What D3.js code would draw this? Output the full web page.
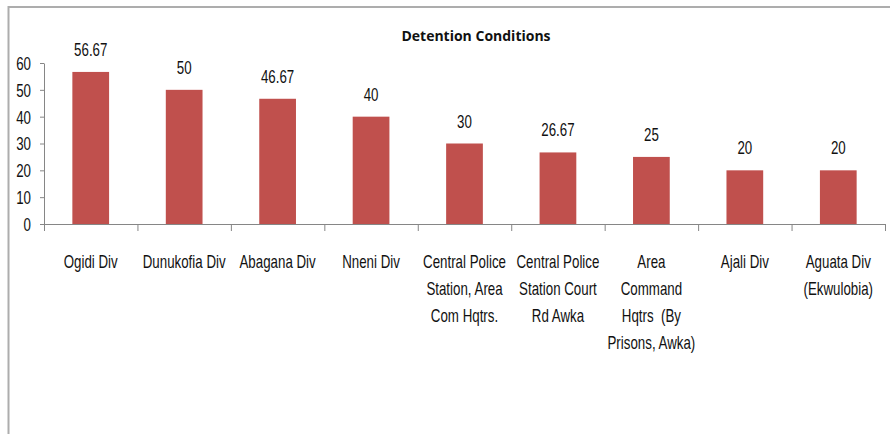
<!DOCTYPE html>
<html>
<head>
<meta charset="utf-8">
<script src="https://cdn.jsdelivr.net/npm/d3@7"></script>
<style>
  html, body { margin: 0; padding: 0; background: #fff; }
  svg { display: block; }
  .narrow { font-family: 'Liberation Sans', Arial, sans-serif; font-size: 18px; fill: #111; }
</style>
</head>
<body>
<div id="chart"></div>
<script>
// categories (lines of each x label) and values
const categories = [
  ['Ogidi Div'],
  ['Dunukofia Div'],
  ['Abagana Div'],
  ['Nneni Div'],
  ['Central Police', 'Station, Area', 'Com Hqtrs.'],
  ['Central Police', 'Station Court', 'Rd Awka'],
  ['Area', 'Command', 'Hqtrs  (By', 'Prisons, Awka)'],
  ['Ajali Div'],
  ['Aguata Div', '(Ekwulobia)']
]
const values = [56.67, 50, 46.67, 40, 30, 26.67, 25, 20, 20]
const yTicks = [0, 10, 20, 30, 40, 50, 60]
const title = 'Detention Conditions'

const W = 890
const H = 434
const plot = { left: 44, right: 885, top: 63, bottom: 224 }
const squeeze = 0.74 // condensed look of the original font

const svg = d3.select('#chart')
  .append('svg')
  .attr('width', W)
  .attr('height', H)

// chart frame (cut off on the right and bottom)
svg.append('rect')
  .attr('x', 8.5)
  .attr('y', 7)
  .attr('width', 1000)
  .attr('height', 1000)
  .attr('fill', 'none')
  .attr('stroke', '#adadad')
  .attr('stroke-width', 2)

// scales
const keys = categories.map((c, i) => i)
const x = d3.scaleBand()
  .domain(keys)
  .range([plot.left, plot.right])

const xLin = d3.scaleLinear()
  .domain([0, categories.length])
  .range([plot.left, plot.right])

const y = d3.scaleLinear()
  .domain([0, 60])
  .range([plot.bottom, plot.top])

// title
svg.append('text')
  .attr('x', 476)
  .attr('y', 41)
  .attr('text-anchor', 'middle')
  .style('font-family', "'Open Sans', sans-serif")
  .style('font-size', '14px')
  .style('font-weight', 'bold')
  .attr('fill', '#111')
  .text(title)

// y axis
const yAxis = svg.append('g')
  .attr('transform', `translate(${plot.left},0)`)
  .call(d3.axisLeft(y).tickValues(yTicks).tickSize(4).tickSizeOuter(0).tickPadding(9))

yAxis.select('.domain').attr('stroke', '#868686')
yAxis.selectAll('.tick line').attr('stroke', '#868686')
yAxis.selectAll('text')
  .attr('class', 'narrow')
  .attr('fill', null)
  .attr('x', 0)
  .attr('dy', '0.36em')
  .attr('transform', `translate(-13,0) scale(${squeeze},1)`)

// x axis with ticks at category boundaries
const xAxis = svg.append('g')
  .attr('transform', `translate(0,${plot.bottom})`)
  .call(d3.axisBottom(xLin).tickValues(d3.range(categories.length + 1)).tickSize(7).tickSizeOuter(0).tickFormat(''))

xAxis.select('.domain').attr('stroke', '#868686')
xAxis.selectAll('.tick line').attr('stroke', '#868686')

// bars
const barW = x.bandwidth() * 0.393
svg.append('g')
  .selectAll('rect')
  .data(values)
  .join('rect')
  .attr('x', (d, i) => x(i) + (x.bandwidth() - barW) / 2)
  .attr('y', d => y(d))
  .attr('width', barW)
  .attr('height', d => y(0) - y(d))
  .attr('fill', '#C0504D')

// value labels
svg.append('g')
  .selectAll('text')
  .data(values)
  .join('text')
  .attr('class', 'narrow')
  .attr('transform', (d, i) => `translate(${x(i) + x.bandwidth() / 2},${y(d) - 16}) scale(${squeeze},1)`)
  .attr('text-anchor', 'middle')
  .text(d => d)

// category labels
const catLabels = svg.append('g')
  .selectAll('text')
  .data(categories)
  .join('text')
  .attr('class', 'narrow')
  .attr('text-anchor', 'middle')
  .attr('transform', (d, i) => `translate(${x(i) + x.bandwidth() / 2},0) scale(${squeeze},1)`)

catLabels.each(function (lines) {
  d3.select(this)
    .selectAll('tspan')
    .data(lines)
    .join('tspan')
    .attr('x', 0)
    .attr('y', (l, j) => 268 + j * 27)
    .style('white-space', 'pre')
    .text(l => l)
})
</script>
</body>
</html>
